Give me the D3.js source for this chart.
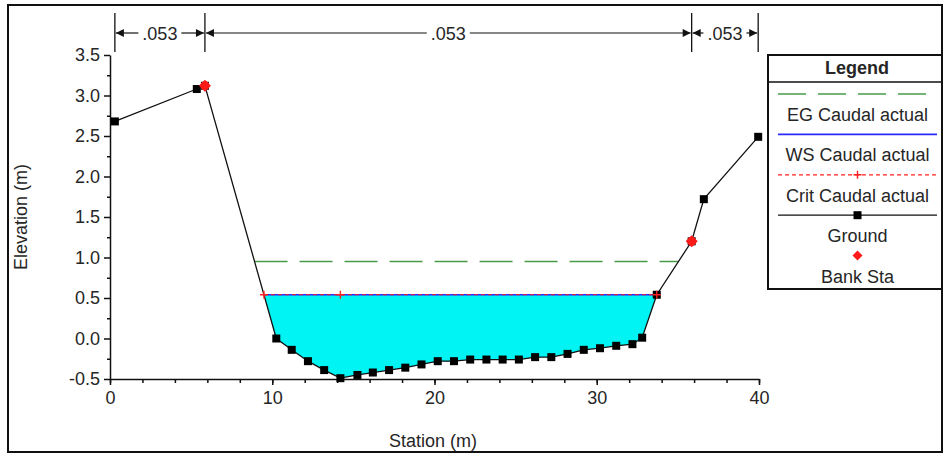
<!DOCTYPE html>
<html>
<head>
<meta charset="utf-8">
<script src="https://cdn.jsdelivr.net/npm/d3@7"></script>
<style>
  body { margin: 0; background: #fff; }
  text { font-family: "Liberation Sans", Arial, sans-serif; fill: #262626; }
</style>
</head>
<body>
<svg id="chart" width="945" height="455"></svg>
<script>
// ground profile (station m, elevation m)
const groundSta = [0.3, 5.35, 5.85, 10.25, 11.2, 12.2, 13.2, 14.2, 15.25, 16.2, 17.2, 18.2, 19.2, 20.2,
  21.2, 22.2, 23.2, 24.2, 25.2, 26.2, 27.2, 28.2, 29.2, 30.2, 31.2, 32.2, 32.8, 33.7, 35.85, 36.6, 39.95];
const groundElev = [2.68, 3.08, 3.12, 0.0, -0.14, -0.28, -0.39, -0.49, -0.45, -0.42, -0.39, -0.36, -0.32, -0.28,
  -0.28, -0.26, -0.26, -0.26, -0.26, -0.23, -0.23, -0.19, -0.14, -0.12, -0.09, -0.07, 0.01, 0.54, 1.20, 1.72, 2.49];
const bankSta = [5.85, 35.85];
const bankElev = [3.12, 1.20];
const egElev = 0.95;
const wsElev = 0.54;
const critElev = 0.54;
const critMarkSta = [14.2];
const manningN = ['.053', '.053', '.053'];
const xTicks = [0, 10, 20, 30, 40];
const yTicks = [-0.5, 0, 0.5, 1, 1.5, 2, 2.5, 3, 3.5];
const legendLabels = ['EG Caudal actual', 'WS Caudal actual', 'Crit Caudal actual', 'Ground', 'Bank Sta'];

const svg = d3.select('#chart');
const x = d3.scaleLinear().domain([0, 40]).range([110, 759]);
const y = d3.scaleLinear().domain([-0.5, 3.5]).range([379, 55]);

const ground = groundSta.map((s, i) => ({ s, e: groundElev[i] }));

// where a horizontal level meets the ground on each side of the channel
const crossings = (level) => {
  let left = null, right = null;
  for (let i = 0; i < ground.length - 1; i++) {
    const a = ground[i], b = ground[i + 1];
    if (left === null && a.e >= level && b.e < level) {
      left = a.s + (a.e - level) / (a.e - b.e) * (b.s - a.s);
    }
    if (a.e < level && b.e >= level) {
      right = a.s + (level - a.e) / (b.e - a.e) * (b.s - a.s);
    }
  }
  return [left, right];
};

// outer frame
svg.append('rect')
  .attr('x', 8).attr('y', 5).attr('width', 934).attr('height', 447)
  .attr('fill', 'none').attr('stroke', '#111').attr('stroke-width', 2);

// water area
const [wsL, wsR] = crossings(wsElev);
const water = [{ s: wsL, e: wsElev }]
  .concat(ground.filter(d => d.s > wsL && d.s < wsR))
  .concat([{ s: wsR, e: wsElev }]);
svg.append('path')
  .attr('d', d3.line().x(d => x(d.s)).y(d => y(d.e))(water) + 'Z')
  .attr('fill', '#00f4f4');

// energy grade
const [egL, egR] = crossings(egElev);
svg.append('line')
  .attr('x1', x(egL)).attr('x2', x(egR)).attr('y1', y(egElev)).attr('y2', y(egElev))
  .attr('stroke', '#4a9a4a').attr('stroke-width', 1.6).attr('stroke-dasharray', '33,12');

// water surface
svg.append('line')
  .attr('x1', x(wsL)).attr('x2', x(wsR)).attr('y1', y(wsElev)).attr('y2', y(wsElev))
  .attr('stroke', '#2a2aff').attr('stroke-width', 1.6);

// critical depth
const [crL, crR] = crossings(critElev);
svg.append('line')
  .attr('x1', x(crL)).attr('x2', x(crR)).attr('y1', y(critElev)).attr('y2', y(critElev))
  .attr('stroke', '#ff2020').attr('stroke-width', 1.2).attr('stroke-dasharray', '4,3');

// axes
const fmtY = d => d3.format('.1f')(d).replace('\u2212', '-');
svg.append('g').attr('transform', 'translate(0,379)')
  .call(d3.axisBottom(x).tickValues(xTicks).tickSize(6).tickSizeOuter(0).tickPadding(6).tickFormat(d3.format('d')));
svg.append('g').attr('transform', 'translate(0,379)')
  .call(d3.axisBottom(x).tickValues(d3.range(0, 41, 2)).tickSize(4).tickFormat(''))
  .select('.domain').remove();
svg.append('g').attr('transform', 'translate(110,0)')
  .call(d3.axisLeft(y).tickValues(yTicks).tickSize(6).tickSizeOuter(0).tickPadding(4).tickFormat(fmtY));
svg.append('g').attr('transform', 'translate(110,0)')
  .call(d3.axisLeft(y).tickValues(d3.range(-0.25, 3.5, 0.5)).tickSize(3).tickFormat(''))
  .select('.domain').remove();
svg.selectAll('.domain, .tick line').attr('stroke', '#111').attr('stroke-width', 1.5);
svg.selectAll('.tick text').attr('font-size', 18).attr('fill', '#262626')
  .attr('font-family', '"Liberation Sans", Arial, sans-serif');

svg.append('text').attr('x', 433).attr('y', 447).attr('text-anchor', 'middle')
  .attr('font-size', 18).text('Station (m)');
svg.append('text').attr('transform', 'translate(27,217) rotate(-90)').attr('text-anchor', 'middle')
  .attr('font-size', 18).text('Elevation (m)');

// ground
svg.append('path')
  .attr('d', d3.line().x(d => x(d.s)).y(d => y(d.e))(ground))
  .attr('fill', 'none').attr('stroke', '#111').attr('stroke-width', 1.3);
svg.selectAll('.gpt').data(ground).enter().append('rect')
  .attr('class', 'gpt')
  .attr('x', d => x(d.s) - 4).attr('y', d => y(d.e) - 4)
  .attr('width', 8).attr('height', 8).attr('fill', '#000');

// critical markers
const cross = (sel, cx, cy, r) => {
  sel.append('path')
    .attr('d', `M${cx - r},${cy}H${cx + r}M${cx},${cy - r}V${cy + r}`)
    .attr('stroke', '#ff2020').attr('stroke-width', 1.4);
};
[crL].concat(critMarkSta, [crR]).forEach(s => cross(svg, x(s), y(critElev), 4));

// bank stations
const diamond = (sel, cx, cy, r) => {
  sel.append('path')
    .attr('d', `M${cx},${cy - r}L${cx + r},${cy}L${cx},${cy + r}L${cx - r},${cy}Z`)
    .attr('fill', '#ff1a1a');
};
bankSta.forEach((s, i) => {
  diamond(svg, x(s), y(bankElev[i]), 6);
  svg.append('circle').attr('cx', x(s)).attr('cy', y(bankElev[i])).attr('r', 4.5).attr('fill', '#ff1a1a');
});

// Manning's n dimension lines along the top
const bounds = [groundSta[0], bankSta[0], bankSta[1], groundSta[groundSta.length - 1]];
const topG = svg.append('g');
bounds.forEach(s => {
  topG.append('line').attr('x1', x(s)).attr('x2', x(s)).attr('y1', 13).attr('y2', 52)
    .attr('stroke', '#111').attr('stroke-width', 1.3);
});
manningN.forEach((n, i) => {
  const xa = x(bounds[i]) + 1, xb = x(bounds[i + 1]) - 1, mid = (xa + xb) / 2;
  const t = topG.append('text').attr('x', mid).attr('y', 40).attr('text-anchor', 'middle')
    .attr('font-size', 18).text(n);
  const w = t.node().getComputedTextLength();
  topG.append('line').attr('x1', xa).attr('x2', mid - w / 2 - 4).attr('y1', 33).attr('y2', 33)
    .attr('stroke', '#111').attr('stroke-width', 1.2);
  topG.append('line').attr('x1', mid + w / 2 + 4).attr('x2', xb).attr('y1', 33).attr('y2', 33)
    .attr('stroke', '#111').attr('stroke-width', 1.2);
  topG.append('path').attr('d', `M${xa},33L${xa + 8},29L${xa + 8},37Z`).attr('fill', '#111');
  topG.append('path').attr('d', `M${xb},33L${xb - 8},29L${xb - 8},37Z`).attr('fill', '#111');
});

// legend
const lg = svg.append('g');
lg.append('rect').attr('x', 768).attr('y', 55).attr('width', 174).attr('height', 234)
  .attr('fill', '#fff').attr('stroke', '#111').attr('stroke-width', 2);
lg.append('line').attr('x1', 768).attr('x2', 942).attr('y1', 82).attr('y2', 82)
  .attr('stroke', '#111').attr('stroke-width', 1.5);
lg.append('text').attr('x', 857).attr('y', 74).attr('text-anchor', 'middle')
  .attr('font-size', 18).attr('font-weight', 'bold').text('Legend');
const rowY = i => 94 + i * 40.4;
const lx1 = 778, lx2 = 937, lxm = (lx1 + lx2) / 2;
lg.append('line').attr('x1', lx1).attr('x2', lx2).attr('y1', rowY(0)).attr('y2', rowY(0))
  .attr('stroke', '#4a9a4a').attr('stroke-width', 1.6).attr('stroke-dasharray', '28,12');
lg.append('line').attr('x1', lx1).attr('x2', lx2).attr('y1', rowY(1)).attr('y2', rowY(1))
  .attr('stroke', '#2a2aff').attr('stroke-width', 1.6);
lg.append('line').attr('x1', lx1).attr('x2', lx2).attr('y1', rowY(2)).attr('y2', rowY(2))
  .attr('stroke', '#ff2020').attr('stroke-width', 1.2).attr('stroke-dasharray', '4,3');
cross(lg, lxm, rowY(2), 4);
lg.append('line').attr('x1', lx1).attr('x2', lx2).attr('y1', rowY(3)).attr('y2', rowY(3))
  .attr('stroke', '#111').attr('stroke-width', 1.3);
lg.append('rect').attr('x', lxm - 4).attr('y', rowY(3) - 4).attr('width', 8).attr('height', 8).attr('fill', '#000');
diamond(lg, lxm, rowY(4), 5);
legendLabels.forEach((label, i) => {
  lg.append('text').attr('x', lxm).attr('y', rowY(i) + 27).attr('text-anchor', 'middle')
    .attr('font-size', 18).text(label);
});
</script>
</body>
</html>
